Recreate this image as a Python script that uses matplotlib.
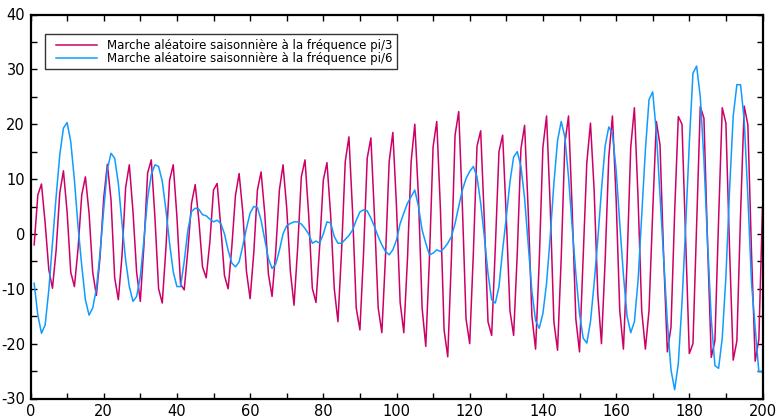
import matplotlib
matplotlib.use("Agg")
import matplotlib.pyplot as plt
from matplotlib.ticker import MultipleLocator
from matplotlib.lines import Line2D
from matplotlib.legend_handler import HandlerLine2D

# Time index
t = list(range(1, 201))

# Seasonal random walk at frequency pi/3 (period 6)
walk_pi3 = [
    -2.0, 7.1, 9.1, 2.0, -6.5, -9.9, -3.0, 7.5, 11.5, 4.0,
    -7.0, -9.6, -2.6, 7.1, 10.4, 3.8, -7.0, -11.2, -4.2, 6.5,
    12.7, 6.2, -8.0, -12.0, -4.0, 8.5, 12.6, 4.1, -7.0, -12.3,
    -2.0, 11.1, 13.5, 3.0, -10.0, -12.6, -2.6, 9.8, 12.6, 3.2,
    -9.2, -10.2, -2.9, 5.6, 9.0, 2.5, -6.0, -8.0, -1.5, 8.0,
    9.2, 1.2, -7.6, -10.0, -2.4, 7.0, 11.0, 4.0, -6.8, -11.8,
    -3.5, 8.0, 11.3, 3.8, -7.3, -11.4, -3.2, 8.0, 12.6, 4.8,
    -6.8, -13.0, -2.5, 10.4, 13.5, 3.5, -9.9, -12.5, -2.3, 9.8,
    13.0, 3.5, -10.0, -16.0, -3.0, 13.2, 17.7, 4.0, -13.5, -17.5,
    -3.5, 13.8, 17.5, 3.0, -13.5, -18.0, -4.0, 13.2, 18.5, 5.0,
    -12.5, -18.0, -4.5, 13.2, 20.0, 6.8, -13.5, -20.5, -4.5, 15.9,
    20.5, 4.5, -17.5, -22.4, -4.5, 18.0, 22.3, 5.0, -15.5, -20.0,
    -3.5, 16.0, 18.8, 2.5, -16.0, -18.5, -2.5, 15.0, 18.0, 3.0,
    -14.0, -18.5, -3.5, 15.5, 19.8, 4.0, -15.0, -21.0, -5.0, 15.8,
    21.5, 5.0, -16.0, -21.2, -4.5, 16.5, 21.5, 4.5, -15.5, -21.5,
    -4.0, 13.0, 20.2, 8.0, -11.0, -20.0, -5.0, 14.0, 21.5, 6.5,
    -14.0, -21.0, -5.0, 15.8, 23.0, 6.5, -14.0, -21.0, -13.9, 4.0,
    20.5, 16.2, -4.3, -21.5, -17.0, 4.0, 21.4, 20.0, -1.2, -21.8,
    -20.0, 1.5, 23.2, 21.1, -2.0, -22.5, -19.5, 2.5, 23.0, 20.2,
    -2.8, -23.0, -19.5, 3.5, 23.3, 19.9, -3.5, -23.2, -19.3, 5.0,
]

# Seasonal random walk at frequency pi/6 (period 12)
walk_pi6 = [
    -9.0, -14.8, -18.1, -16.6, -10.2, -1.7, 6.8, 14.4, 19.3, 20.3,
    16.8, 9.8, 1.3, -5.8, -12.0, -14.8, -13.5, -10.0, -3.5, 4.4,
    11.8, 14.7, 13.8, 9.2, 1.9, -4.8, -9.6, -12.3, -11.4, -7.8,
    -1.0, 6.5, 10.8, 12.6, 12.3, 9.6, 4.4, -1.7, -6.9, -9.6,
    -9.6, -5.0, 0.7, 4.1, 4.7, 4.5, 3.5, 3.3, 2.7, 2.2,
    2.5, 1.9, 0.0, -3.0, -5.3, -6.0, -5.1, -2.2, 1.0, 3.8,
    5.0, 4.8, 2.5, -1.0, -4.5, -6.3, -5.5, -3.0, 0.0, 1.5,
    1.9, 2.2, 2.2, 1.8, 1.0, 0.0, -1.7, -1.3, -1.7, 0.0,
    2.2, 2.0, -0.5, -1.7, -1.7, -1.0, -0.3, 0.7, 2.5, 4.0,
    4.4, 4.2, 2.9, 1.3, -0.5, -2.0, -3.2, -3.8, -2.9, -1.1,
    1.9, 3.8, 5.6, 6.8, 8.0, 5.0, 0.7, -1.7, -3.8, -3.5,
    -2.9, -3.2, -2.6, -1.7, -0.5, 1.9, 5.0, 8.0, 10.1, 11.4,
    12.3, 10.4, 5.6, -0.5, -7.2, -12.0, -12.6, -9.6, -2.9, 3.0,
    9.5, 14.0, 15.0, 12.3, 6.5, -2.0, -10.5, -15.8, -17.2, -14.5,
    -9.0, -0.5, 9.2, 17.0, 20.5, 17.7, 10.4, 1.3, -7.2, -14.5,
    -19.0, -19.9, -16.0, -9.0, -1.0, 8.0, 16.0, 19.5, 18.3, 11.7,
    1.9, -7.5, -15.0, -18.0, -16.0, -8.5, 3.5, 15.3, 24.5, 25.9,
    18.5, 7.0, -4.7, -16.0, -24.8, -28.4, -23.6, -12.6, 1.3, 16.5,
    29.3, 30.6, 25.0, 13.5, -1.7, -15.5, -24.0, -24.5, -19.0, -7.8,
    8.0, 21.5, 27.2, 27.2, 20.8, 6.8, -9.0, -17.0, -25.1, -25.1,
]

series_labels = [
    "Marche aléatoire saisonnière à la fréquence pi/3",
    "Marche aléatoire saisonnière à la fréquence pi/6",
]
series_colors = ["#cc0066", "#0f9bff"]

x_ticks = list(range(0, 201, 20))
y_ticks = list(range(-30, 41, 10))

plt.rcParams["font.family"] = ["DejaVu Sans"]
plt.rcParams["axes.unicode_minus"] = False

fig = plt.figure(figsize=(7.79, 4.18), dpi=100)
ax = fig.add_axes([30.5 / 779, 19.5 / 418, 732 / 779, 384 / 418])

ax.plot(t, walk_pi3, color=series_colors[0], lw=1.1, label=series_labels[0])
ax.plot(t, walk_pi6, color=series_colors[1], lw=1.1, label=series_labels[1])

ax.set_xlim(0, 200)
ax.set_ylim(-30, 40)
ax.set_xticks(x_ticks)
ax.set_yticks(y_ticks)
ax.xaxis.set_minor_locator(MultipleLocator(10))
ax.yaxis.set_minor_locator(MultipleLocator(5))
ax.tick_params(which="both", direction="in", length=4, width=1.0,
               top=True, right=True, labelsize=10.5, pad=4)

for sp in ax.spines.values():
    sp.set_linewidth(1.6)

leg = ax.legend(loc="upper left", bbox_to_anchor=(0.0198, 0.949),
                borderaxespad=0, fontsize=8.45, frameon=True, fancybox=False,
                handlelength=4.0, handletextpad=0.85, labelspacing=0.0,
                borderpad=0.4,
                handler_map={Line2D: HandlerLine2D(xpad=0.55)})
leg.get_frame().set_edgecolor("black")
leg.get_frame().set_linewidth(1.0)

fig.savefig("out.png", dpi=100)
